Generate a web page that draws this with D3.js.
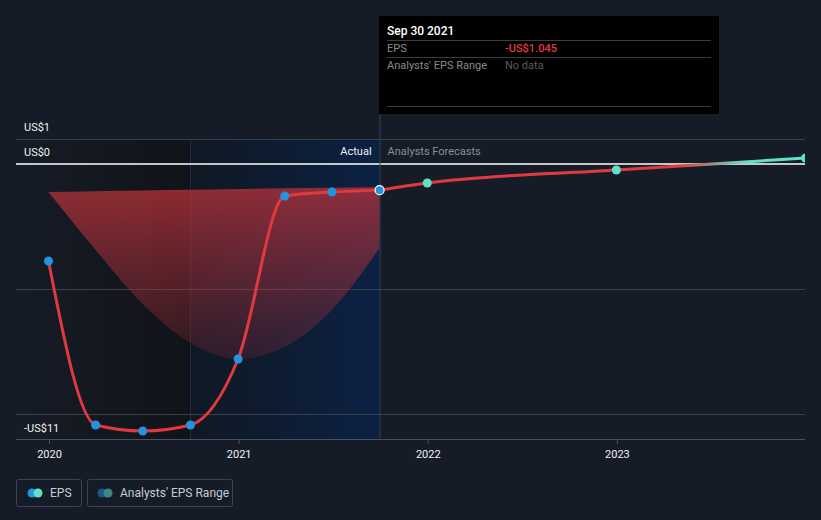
<!DOCTYPE html>
<html>
<head>
<meta charset="utf-8">
<script src="https://cdn.jsdelivr.net/npm/d3@7"></script>
<style>
  html, body { margin: 0; padding: 0; background: #161c27; }
  svg { display: block; font-family: Roboto, "Noto Sans", sans-serif; }
</style>
</head>
<body>
<svg id="chart" width="821" height="520"></svg>
<script>
// ---- data ----
const actualDates = ["2019-12-31","2020-03-31","2020-06-30","2020-09-30","2020-12-31","2021-03-31","2021-06-30","2021-09-30"];
const actualEPS   = [-3.88, -10.44, -10.68, -10.44, -7.8, -1.28, -1.12, -1.045];
const forecastDates = ["2021-09-30","2021-12-31","2022-12-31","2023-12-31"];
const forecastEPS   = [-1.045, -0.76, -0.24, 0.24];
const rangeDates = ["2019-12-31","2020-03-31","2020-06-30","2020-09-30","2020-12-31","2021-03-31","2021-06-30","2021-09-30"];
const rangeHigh  = [-1.12, -1.09, -1.06, -1.03, -1.0, -0.97, -0.95, -0.92];
const rangeLow   = [-1.12, -3.44, -5.6, -7.16, -7.8, -7.32, -5.84, -3.36];
const yTickValues = [1, 0, -11];
const yTickLabels = ["US$1", "US$0", "-US$11"];
const yGridValues = [1, -5, -10];
const xTickYears = ["2020","2021","2022","2023"];
const tooltipDate = "Sep 30 2021";
const tooltipEPS = "-US$1.045";
</script>
<script>
(function(){
const parse = d3.timeParse("%Y-%m-%d");
const svg = d3.select("#chart");
const W = 821, H = 520;
const pLeft = 16, pRight = 805, pTop = 139, pBottom = 439;

const x = d3.scaleTime().domain([parse("2020-01-01"), parse("2024-01-01")]).range([49, 806]);
const y = d3.scaleLinear().domain([0, -11]).range([164, 439]);

const defs = svg.append("defs");
const gDark = defs.append("linearGradient").attr("id","gDark").attr("x1","0").attr("x2","1").attr("y1","0").attr("y2","0");
gDark.append("stop").attr("offset","0").attr("stop-color","#161c27");
gDark.append("stop").attr("offset","1").attr("stop-color","#101318");
const gBlue = defs.append("linearGradient").attr("id","gBlue").attr("x1","0").attr("x2","1").attr("y1","0").attr("y2","0");
gBlue.append("stop").attr("offset","0").attr("stop-color","#101824");
gBlue.append("stop").attr("offset","1").attr("stop-color","#0b2143");
const gRange = defs.append("linearGradient").attr("id","gRange").attr("gradientUnits","userSpaceOnUse")
  .attr("x1",0).attr("x2",0).attr("y1",y(-1)).attr("y2",y(-7.8));
gRange.append("stop").attr("offset","0").attr("stop-color","#c2343b").attr("stop-opacity",0.7);
gRange.append("stop").attr("offset","1").attr("stop-color","#b0303a").attr("stop-opacity",0.18);
const gFc = defs.append("linearGradient").attr("id","gFc").attr("gradientUnits","userSpaceOnUse")
  .attr("x1",x(parse("2021-09-30"))).attr("x2",x(parse("2023-12-31"))).attr("y1",0).attr("y2",0);
gFc.append("stop").attr("offset","0").attr("stop-color","#e0393e");
gFc.append("stop").attr("offset","0.7").attr("stop-color","#e0393e");
gFc.append("stop").attr("offset","0.86").attr("stop-color","#5fe0c9");
gFc.append("stop").attr("offset","1").attr("stop-color","#5fe0c9");
defs.append("clipPath").attr("id","clip").append("rect").attr("x",pLeft).attr("y",0).attr("width",pRight-pLeft).attr("height",H);

const xNow = x(parse("2021-09-30"));
const xPastStart = x(parse("2020-09-30"));

// background regions
svg.append("rect").attr("x", pLeft).attr("y", pTop).attr("width", xPastStart-pLeft).attr("height", pBottom-pTop).attr("fill","url(#gDark)");
svg.append("rect").attr("x", xPastStart).attr("y", pTop).attr("width", xNow-xPastStart).attr("height", pBottom-pTop).attr("fill","url(#gBlue)");
svg.append("line").attr("x1",xPastStart).attr("x2",xPastStart).attr("y1",pTop).attr("y2",pBottom).attr("stroke","#1d2d45").attr("stroke-width",1);

// gridlines
svg.selectAll(".grid").data(yGridValues).enter().append("line")
  .attr("x1",pLeft).attr("x2",pRight).attr("y1",d=>y(d)+0.5).attr("y2",d=>y(d)+0.5)
  .attr("stroke","#3a3f4a").attr("stroke-width",1);

// range area
const area = d3.area().x((d,i)=>x(parse(rangeDates[i]))).y0((d,i)=>y(rangeLow[i])).y1((d,i)=>y(rangeHigh[i])).curve(d3.curveMonotoneX);
svg.append("path").datum(rangeDates).attr("d", area).attr("fill","url(#gRange)");

// zero line
svg.append("line").attr("x1",pLeft).attr("x2",pRight).attr("y1",y(0)).attr("y2",y(0)).attr("stroke","#ffffff").attr("stroke-width",1.5);

// x axis
svg.append("line").attr("x1",pLeft).attr("x2",pRight).attr("y1",pBottom+0.5).attr("y2",pBottom+0.5).attr("stroke","#4a505c").attr("stroke-width",1);
const xAxis = d3.axisBottom(x).tickValues(xTickYears.map(s=>parse(s+"-01-01"))).tickFormat(d3.timeFormat("%Y")).tickSize(5).tickPadding(6);
const gx = svg.append("g").attr("transform",`translate(0,${pBottom})`).call(xAxis);
gx.select(".domain").remove();
gx.selectAll("line").attr("stroke","#4a505c");
gx.selectAll("text").attr("fill","#f0f0f0").attr("font-size","11px").attr("font-family","Roboto, sans-serif");

// y labels
svg.selectAll(".ylab").data(yTickValues).enter().append("text")
  .attr("x",24).attr("y",(d,i)=> i===2 ? y(d)-7 : y(d)-8)
  .attr("fill","#f0f0f0").attr("font-size","11px").text((d,i)=>yTickLabels[i]);

// now line
svg.append("line").attr("x1",xNow+0.5).attr("x2",xNow+0.5).attr("y1",114).attr("y2",pBottom).attr("stroke","#34405a").attr("stroke-width",1);

// labels Actual / Analysts Forecasts
svg.append("text").attr("x",xNow-8).attr("y",155).attr("text-anchor","end").attr("fill","#f0f0f0").attr("font-size","11px").text("Actual");
svg.append("text").attr("x",xNow+8).attr("y",155).attr("fill","#8a8e96").attr("font-size","11px").text("Analysts Forecasts");

const g = svg.append("g").attr("clip-path","url(#clip)");
const line = d3.line().x(d=>x(d[0])).y(d=>y(d[1])).curve(d3.curveMonotoneX);
const actual = actualDates.map((d,i)=>[parse(d), actualEPS[i]]);
const fc = forecastDates.map((d,i)=>[parse(d), forecastEPS[i]]);
g.append("path").datum(actual).attr("d", line).attr("fill","none").attr("stroke","#e0393e").attr("stroke-width",3);
g.append("path").datum(fc).attr("d", line).attr("fill","none").attr("stroke","url(#gFc)").attr("stroke-width",3);

g.selectAll(".fdot").data(fc.slice(1)).enter().append("circle")
  .attr("cx",d=>x(d[0])).attr("cy",d=>y(d[1])).attr("r",4.5).attr("fill","#5fe0c9");
g.selectAll(".adot").data(actual).enter().append("circle")
  .attr("cx",d=>x(d[0])).attr("cy",d=>y(d[1])).attr("r",4.5).attr("fill","#2394df")
  .attr("stroke",(d,i)=> i===actual.length-1 ? "#ffffff" : "none").attr("stroke-width",1.2);

// tooltip
const tt = svg.append("g").attr("transform","translate(379,16)");
tt.append("rect").attr("width",340).attr("height",98).attr("fill","#000000");
tt.append("text").attr("x",8).attr("y",19).attr("fill","#ffffff").attr("font-size","12px").attr("font-weight","500").text(tooltipDate);
[24, 41, 90].forEach(yy => tt.append("line").attr("x1",8).attr("x2",332).attr("y1",yy+0.5).attr("y2",yy+0.5).attr("stroke","#3c3c3c"));
tt.append("text").attr("x",8).attr("y",36).attr("fill","#8a8a8a").attr("font-size","11px").text("EPS");
tt.append("text").attr("x",126).attr("y",36).attr("fill","#e8383d").attr("font-size","11px").attr("font-weight","500").text(tooltipEPS);
tt.append("text").attr("x",8).attr("y",53).attr("fill","#8a8a8a").attr("font-size","11px").text("Analysts' EPS Range");
tt.append("text").attr("x",126).attr("y",53).attr("fill","#5a5a5a").attr("font-size","11px").text("No data");

// legend
const lg = svg.append("g");
lg.append("rect").attr("x",16.5).attr("y",479.5).attr("width",65).attr("height",27).attr("rx",2).attr("fill","none").attr("stroke","#3d424d");
lg.append("circle").attr("cx",32).attr("cy",493).attr("r",4.5).attr("fill","#2394df");
lg.append("circle").attr("cx",38).attr("cy",493).attr("r",4.5).attr("fill","#5fe0c9");
lg.append("text").attr("x",50).attr("y",497).attr("fill","#c8cad0").attr("font-size","12px").text("EPS");
lg.append("rect").attr("x",87.5).attr("y",479.5).attr("width",145).attr("height",27).attr("rx",2).attr("fill","none").attr("stroke","#3d424d");
lg.append("circle").attr("cx",102).attr("cy",493).attr("r",4.5).attr("fill","#1d5786");
lg.append("circle").attr("cx",108).attr("cy",493).attr("r",4.5).attr("fill","#3f8984");
lg.append("text").attr("x",120).attr("y",497).attr("fill","#c8cad0").attr("font-size","12px").text("Analysts' EPS Range");
})();
</script>
</body>
</html>
